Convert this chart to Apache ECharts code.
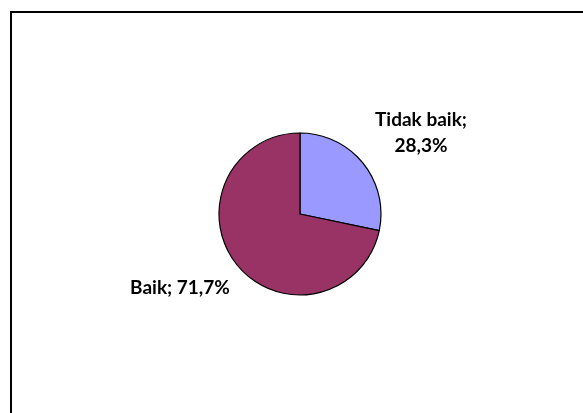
<!DOCTYPE html>
<html><head><meta charset="utf-8">
<script src="https://cdn.jsdelivr.net/npm/echarts@6/dist/echarts.min.js"></script>
<style>html,body{margin:0;padding:0;background:#fff}#c{width:583px;height:413px}</style>
</head><body><div id="c"></div>
<script>
const categories = ["Tidak baik", "Baik"];
const values = [28.3, 71.7];
const colors = ["#9999FF", "#993366"];

const chart = echarts.init(document.getElementById('c'), null, {renderer: 'canvas'});
const fmt = v => v.toFixed(1).replace('.', ',');
chart.setOption({
  backgroundColor: '#fff',
  animation: false,
  graphic: [{
    type: 'rect', shape: {x: 11, y: 12, width: 600, height: 450},
    style: {fill: 'none', stroke: '#000', lineWidth: 2}
  }],
  series: [{
    type: 'pie',
    center: [300, 214],
    radius: 81,
    startAngle: 90,
    clockwise: true,
    data: categories.map((c, i) => ({name: c, value: values[i], itemStyle: {color: colors[i]}})),
    itemStyle: {borderColor: '#000', borderWidth: 1.2},
    label: {
      show: true,
      formatter: p => p.dataIndex === 0 ? p.name + ';\n' + fmt(p.value) + '%' : p.name + '; ' + fmt(p.value) + '%',
      fontFamily: 'Lato', fontWeight: 'bold', fontSize: 19, color: '#000',
      lineHeight: 26, align: 'center'
    },
    labelLine: {show: false},
    labelLayout: p => p.dataIndex === 0
      ? {x: 421, y: 133, align: 'center', verticalAlign: 'middle'}
      : {x: 180, y: 288, align: 'center', verticalAlign: 'middle'},
    emphasis: {disabled: true}
  }]
});
</script></body></html>
